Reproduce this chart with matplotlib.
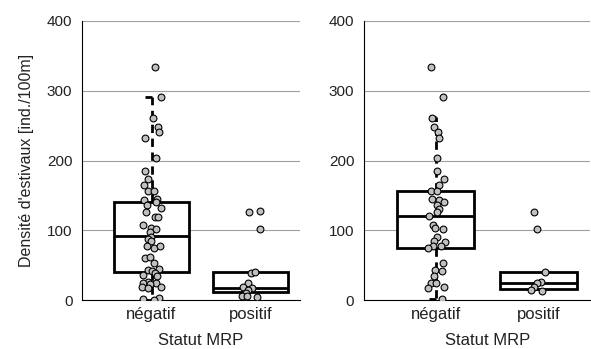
import numpy as np
import matplotlib
matplotlib.use("Agg")
import matplotlib.pyplot as plt

plt.rcParams['font.family'] = ['Liberation Sans', 'DejaVu Sans']

categories = ['négatif', 'positif']
ylabel = "Densité d'estivaux [ind./100m]"
xlabel = 'Statut MRP'

# box statistics per panel: (whislo, q1, med, q3, whishi)
left_stats = [(0, 40, 92, 141, 291), (11, 11, 18, 40, 40)]
right_stats = [(1, 74.5, 120, 156, 262), (16, 16, 24, 40, 40)]
# which boxes get visible whiskers
left_whisk = [True, False]
right_whisk = [True, False]

# points: value, horizontal jitter
left_neg_y = [334.5, 290.6, 261.4, 248.5, 240.4, 232.7, 203.6, 185.4, 173.5, 164.4,
              156.3, 156.3, 144.8, 143.4, 140.5, 135.7, 132.4, 125.7, 119.0, 118.5,
              107.0, 102.7, 101.3, 97.0, 90.8, 87.0, 85.1, 77.9, 74.1, 77.9,
              59.7, 62.1, 53.0, 43.0, 41.6, 44.0, 39.2, 35.4, 34.4, 26.3,
              23.9, 24.9, 22.5, 19.1, 16.7, 19.1, 3.3, 1.0, 0.0]
left_neg_dx = [0.03, 0.1, 0.015, 0.07, 0.08, -0.07, 0.04, -0.07, -0.04, -0.075,
               -0.04, 0.025, 0.055, -0.075, 0.05, -0.05, 0.1, -0.055, 0.035, 0.07,
               -0.085, -0.005, 0.04, -0.02, -0.01, -0.035, -0.01, -0.05, 0.02, 0.09,
               -0.065, -0.02, 0.02, -0.04, 0.0, 0.08, 0.03, -0.085, 0.055, -0.04,
               0.05, -0.09, -0.015, -0.095, -0.04, 0.1, 0.08, -0.085, 0.02]
left_pos_y = [125.7, 127.1, 102.3, 39.2, 40.1, 24.9, 18.2, 16.7, 14.3, 10.5, 5.7, 6.2, 3.8]
left_pos_dx = [-0.02, 0.09, 0.095, 0.0, 0.04, -0.025, -0.075, 0.01, -0.03, -0.05, -0.09, -0.035, 0.06]

right_neg_y = [334.5, 290.6, 261.4, 248.5, 240.4, 232.7, 203.6, 185.4, 173.5, 164.4,
               156.3, 156.3, 144.8, 143.4, 140.5, 135.7, 130.5, 125.7, 120.0, 107.0,
               102.7, 101.3, 90.8, 85.1, 82.7, 77.9, 77.9, 74.1, 53.0, 43.0,
               41.6, 34.4, 24.9, 24.9, 16.7, 19.1, 1.0]
right_neg_dx = [-0.05, 0.07, -0.035, -0.015, 0.02, 0.035, 0.01, 0.01, 0.075, 0.035,
                -0.045, 0.015, -0.035, 0.035, 0.075, 0.015, 0.03, 0.015, -0.07, -0.025,
                -0.005, 0.07, 0.015, -0.015, 0.085, -0.03, 0.045, -0.075, 0.065, -0.01,
                0.055, -0.015, -0.05, 0.0, -0.075, 0.075, 0.06]
right_pos_y = [125.7, 102.3, 40.1, 25.8, 23.9, 19.1, 14.3, 13.4]
right_pos_dx = [-0.045, -0.01, 0.065, 0.02, -0.015, -0.04, -0.07, 0.03]


def draw_panel(ax, stats, whisk, points, show_ylabel):
    bxp_stats = []
    for (lo, q1, med, q3, hi), w in zip(stats, whisk):
        bxp_stats.append(dict(whislo=lo if w else q1, q1=q1, med=med, q3=q3,
                              whishi=hi if w else q3, fliers=[]))
    pos = np.arange(len(categories))
    ax.bxp(bxp_stats, positions=pos, widths=0.75, showcaps=False, patch_artist=True,
           boxprops=dict(facecolor='white', edgecolor='black', linewidth=2.0),
           medianprops=dict(color='black', linewidth=2.0),
           whiskerprops=dict(color='black', linewidth=2.0, linestyle=(0, (3, 2))),
           zorder=2)
    for p, (lo, q1, med, q3, hi), w in zip(pos, stats, whisk):
        if w:
            ax.hlines([lo, hi], p - 0.07, p, color='black', linewidth=2.0, zorder=2)
    for p, (ys, dxs) in zip(pos, points):
        ax.scatter(p + np.array(dxs), ys, s=24, facecolor='#c0c0c0',
                   edgecolor='black', linewidth=0.8, zorder=3)
    ax.set_xlim(-0.7, 1.5)
    ax.set_ylim(0, 400)
    ax.set_yticks([0, 100, 200, 300, 400])
    ax.set_xticks(pos)
    ax.set_xticklabels(categories)
    ax.tick_params(axis='y', length=0, labelsize=11, pad=7, labelcolor='#222222')
    ax.tick_params(axis='x', length=0, labelsize=12, pad=5, labelcolor='#222222')
    ax.grid(axis='y', color='#a0a0a0', linewidth=0.8)
    ax.set_axisbelow(True)
    for s in ['top', 'right']:
        ax.spines[s].set_visible(False)
    ax.spines['left'].set_color('black')
    ax.spines['bottom'].set_color('black')
    ax.set_xlabel(xlabel, fontsize=12, color='#222222')
    ax.xaxis.set_label_coords((0.5 + 0.7) / 2.2, -0.118)
    if show_ylabel:
        ax.set_ylabel(ylabel, fontsize=11.5, labelpad=9, color='#222222')


fig = plt.figure(figsize=(5.91, 3.49), dpi=100)
ax1 = fig.add_axes([0.139, 0.140, 0.369, 0.800])
ax2 = fig.add_axes([0.616, 0.140, 0.382, 0.800])

draw_panel(ax1, left_stats, left_whisk,
           [(left_neg_y, left_neg_dx), (left_pos_y, left_pos_dx)], True)
draw_panel(ax2, right_stats, right_whisk,
           [(right_neg_y, right_neg_dx), (right_pos_y, right_pos_dx)], False)

fig.savefig('out.png', dpi=100)
